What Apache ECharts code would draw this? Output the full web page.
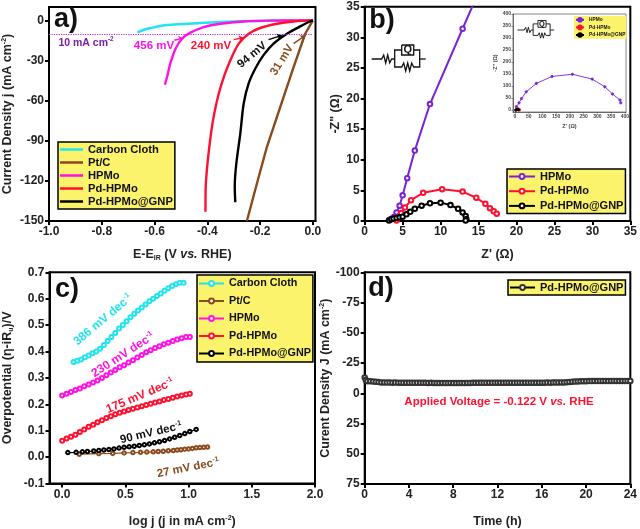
<!DOCTYPE html>
<html><head><meta charset="utf-8">
<script src="https://cdn.jsdelivr.net/npm/echarts@6/dist/echarts.min.js"></script>
<style>html,body{margin:0;padding:0;background:#fff}#c{width:640px;height:529px}</style>
</head><body><div id="c"></div>
<script>
// ---------- tick labels
const aXTicks=[-1,-0.8,-0.6,-0.4,-0.2,0];
const aYTicks=[-150,-120,-90,-60,-30,0];
const bTicks=[0,5,10,15,20,25,30,35];
const cXTicks=[0,0.5,1,1.5,2];
const cYTicks=[-0.1,0,0.1,0.2,0.3,0.4,0.5,0.6,0.7];
const dXTicks=[0,4,8,12,16,20,24];
const dYTicks=[-100,-75,-50,-25,0,25,50,75];
const insetTicks=[0,50,100,150,200,250,300,350,400];

// ---------- panel a: LSV
const aCarbon=[[-0.665,-9],[-0.64,-7],[-0.615,-5.7],[-0.552,-3.5],[-0.426,-2],[-0.3,-0.8],[-0.174,-0.3],[0,0]];
const aPtC=[[-0.25,-150],[-0.212,-122],[-0.174,-94.5],[-0.124,-65],[-0.073,-35],[-0.029,-10],[0,0]];
const aHPMo=[[-0.561,-48],[-0.552,-42],[-0.54,-32],[-0.52,-21],[-0.496,-13.7],[-0.464,-9.2],[-0.414,-5],[-0.35,-2.5],[-0.262,-0.8],[-0.17,-0.2],[0,0]];
const aPd=[[-0.407,-143],[-0.406,-124],[-0.398,-104.5],[-0.386,-84.6],[-0.376,-72],[-0.357,-55],[-0.335,-41],[-0.313,-30],[-0.281,-17.4],[-0.243,-10],[-0.2,-5.7],[-0.136,-2.5],[-0.073,-0.8],[0,0]];
const aGNP=[[-0.294,-136],[-0.296,-124],[-0.29,-107],[-0.275,-84.6],[-0.262,-62],[-0.243,-47],[-0.218,-36],[-0.187,-26],[-0.149,-17.4],[-0.098,-10],[-0.048,-4.5],[-0.016,-1.2],[0,0]];

// ---------- panel b: Nyquist
const bHPMo=[[3.3,0.2],[3.6,0.4],[3.9,0.7],[4.2,1.4],[4.6,2.5],[5,4.2],[5.6,7],[6.6,11.5],[8.6,19.1],[12.9,31.4],[15.4,38.5]];
const bPd=[[4.2,0.1],[4.4,0.5],[4.8,1.3],[5.3,2.2],[6.1,3.4],[7.7,4.6],[10.2,5.2],[12.9,4.8],[14.7,3.8],[15.9,2.8],[16.5,2.1],[17,1.6],[17.4,1.2]];
const bGNP=[[3.2,0.1],[3.5,0.3],[3.8,0.4],[4.2,0.5],[4.6,0.6],[5,0.7],[5.5,1.1],[6,1.5],[6.6,2],[7.5,2.5],[8.6,2.9],[10,3],[11.3,2.6],[12.3,2],[12.9,1.4],[13.3,0.8],[13.4,0.3],[13.3,0.1]];
const inHPMo=[[5,14],[15,30],[24,48],[41,76],[78,111],[135,140],[209,149],[281,129],[327,97],[355,67],[382,42],[385,30]];
const inPd=[[4,1],[7,3],[10,5],[14,4],[17,1]];
const inGNP=[[3,0],[6,2],[10,3],[13,1]];

// ---------- panel c: Tafel
const cCarbon=[[0.09,0.36],[0.12,0.365],[0.15,0.37],[0.18,0.378],[0.21,0.385],[0.24,0.393],[0.27,0.4],[0.3,0.41],[0.33,0.425],[0.36,0.44],[0.39,0.455],[0.42,0.47],[0.45,0.487],[0.48,0.5],[0.51,0.515],[0.54,0.53],[0.57,0.543],[0.6,0.555],[0.63,0.567],[0.66,0.578],[0.69,0.59],[0.72,0.6],[0.75,0.61],[0.78,0.62],[0.81,0.63],[0.84,0.64],[0.87,0.648],[0.9,0.655],[0.93,0.66],[0.96,0.66]];
const cPtC=[[0.135,0.011],[0.29,0.013],[0.4,0.014],[0.49,0.016],[0.56,0.017],[0.62,0.018],[0.67,0.019],[0.72,0.02],[0.76,0.021],[0.8,0.022],[0.84,0.024],[0.88,0.025],[0.91,0.027],[0.94,0.028],[0.97,0.03],[1,0.031],[1.03,0.033],[1.06,0.035],[1.09,0.036],[1.12,0.037],[1.15,0.038]];
const cHPMo=[[0,0.233],[0.035,0.24],[0.07,0.247],[0.105,0.254],[0.14,0.26],[0.175,0.268],[0.21,0.275],[0.245,0.283],[0.28,0.29],[0.315,0.3],[0.35,0.31],[0.385,0.32],[0.42,0.33],[0.455,0.34],[0.49,0.348],[0.525,0.358],[0.56,0.367],[0.595,0.377],[0.63,0.387],[0.665,0.397],[0.7,0.405],[0.735,0.413],[0.77,0.42],[0.805,0.427],[0.84,0.433],[0.875,0.44],[0.91,0.445],[0.945,0.45],[0.98,0.455],[1.01,0.455]];
const cPd=[[0,0.062],[0.035,0.07],[0.07,0.077],[0.105,0.085],[0.14,0.095],[0.175,0.105],[0.21,0.115],[0.245,0.123],[0.28,0.132],[0.315,0.14],[0.35,0.148],[0.385,0.155],[0.42,0.162],[0.455,0.168],[0.49,0.173],[0.525,0.178],[0.56,0.183],[0.595,0.188],[0.63,0.193],[0.665,0.197],[0.7,0.202],[0.735,0.207],[0.77,0.211],[0.805,0.216],[0.84,0.22],[0.875,0.225],[0.91,0.23],[0.945,0.233],[0.98,0.237],[1.01,0.24]];
const cGNP=[[0.045,0.017],[0.11,0.018],[0.16,0.02],[0.2,0.021],[0.25,0.023],[0.29,0.025],[0.33,0.027],[0.37,0.029],[0.41,0.031],[0.45,0.034],[0.49,0.037],[0.53,0.039],[0.57,0.041],[0.61,0.044],[0.65,0.047],[0.69,0.05],[0.73,0.054],[0.77,0.058],[0.81,0.063],[0.85,0.069],[0.89,0.075],[0.93,0.082],[0.97,0.089],[1.01,0.097],[1.06,0.105]];

// ---------- panel d: stability
const dTime=[0,0.1,0.25,0.5,0.75,1,1.25,1.5,1.75,2,2.25,2.5,2.75,3,3.25,3.5,3.75,4,4.25,4.5,4.75,5,5.25,5.5,5.75,6,6.25,6.5,6.75,7,7.25,7.5,7.75,8,8.25,8.5,8.75,9,9.25,9.5,9.75,10,10.25,10.5,10.75,11,11.25,11.5,11.75,12,12.25,12.5,12.75,13,13.25,13.5,13.75,14,14.25,14.5,14.75,15,15.25,15.5,15.75,16,16.25,16.5,16.75,17,17.25,17.5,17.75,18,18.25,18.5,18.75,19,19.25,19.5,19.75,20,20.25,20.5,20.75,21,21.25,21.5,21.75,22,22.25,22.5,22.75,23,23.25,23.5,23.75,24];
const dCurrent=[-13,-11,-10,-10,-9.8,-9.6,-9.3,-9,-9,-8.9,-8.9,-8.8,-8.9,-8.8,-8.8,-8.7,-8.8,-8.7,-8.7,-8.6,-8.7,-8.6,-8.6,-8.6,-8.5,-8.6,-8.5,-8.5,-8.4,-8.5,-8.4,-8.4,-8.5,-8.4,-8.4,-8.4,-8.5,-8.4,-8.5,-8.5,-8.6,-8.6,-8.6,-8.7,-8.7,-8.7,-8.8,-8.7,-8.8,-8.8,-8.8,-8.7,-8.8,-8.8,-8.8,-8.7,-8.8,-8.8,-8.7,-8.8,-8.8,-8.8,-8.7,-8.8,-8.8,-8.8,-8.8,-8.9,-8.8,-8.9,-8.9,-8.9,-9,-9,-9.2,-9.4,-9.6,-9.7,-9.8,-9.9,-10,-10,-10.1,-10.1,-10.2,-10.1,-10.2,-10.2,-10.2,-10.1,-10.2,-10.2,-10.2,-10.1,-10.2,-10.2,-10.2,-10.2];

const FONT='"Liberation Sans",Arial,sans-serif';
const CYAN='#22E4EC',BROWN='#8A4A1C',MAG='#FF12E6',RED='#FF1030',BLK='#000',PUR='#7A22D6',YEL='#FBF36C';

function axis(grid,min,max,ticks,dec,extra){
  const fmt=v=>dec?Number(v).toFixed(dec):String(v);
  return Object.assign({type:'value',gridIndex:grid,min,max,
    axisLine:{show:true,onZero:false,lineStyle:{color:'#000',width:2}},
    axisTick:{show:true,customValues:ticks,length:4,inside:false,lineStyle:{color:'#000',width:2}},
    axisLabel:{show:true,customValues:ticks,formatter:fmt,color:'#222',fontFamily:FONT,fontWeight:'bold',fontSize:12,margin:5},
    splitLine:{show:false},minorTick:{show:false},
    nameLocation:'middle',
    nameTextStyle:{color:'#222',fontFamily:FONT,fontWeight:'bold',fontSize:12.5,
      rich:{sup:{fontSize:7,fontWeight:'bold',fontFamily:FONT,color:'#222',verticalAlign:'top',lineHeight:14},
            sub:{fontSize:7,fontWeight:'bold',fontFamily:FONT,color:'#222',verticalAlign:'bottom',lineHeight:14},
            i:{fontStyle:'italic',fontWeight:'bold',fontSize:12.5,fontFamily:FONT,color:'#222'}}}
  },extra||{});
}
function inAxis(min,max,extra){
  const a=axis(4,min,max,insetTicks,0,extra);
  a.axisLine.lineStyle={color:'#444',width:0.7};
  a.axisTick.length=1.5;a.axisTick.lineStyle={color:'#444',width:0.6};
  a.axisLabel.fontSize=5;a.axisLabel.margin=2;a.axisLabel.color='#444';
  a.nameTextStyle.fontSize=5.5;a.nameTextStyle.color='#444';
  return a;
}
function line(tag,name,data,x,color,width,sym,size,more){
  return Object.assign({type:'line',name:tag+'|'+name,data,xAxisIndex:x,yAxisIndex:x,
    showSymbol:!!sym,symbol:sym||'none',symbolSize:size||0,
    lineStyle:{color,width},itemStyle:{color,borderColor:color,borderWidth:sym?1:0},
    z:3},more||{});
}
function legend(tag,names,left,top,font,gap,iw,ih,pad,bw,icon){
  const l={show:true,orient:'vertical',left,top,data:names.map(n=>tag+'|'+n),
    formatter:n=>n.split('|')[1],backgroundColor:YEL,borderColor:'#000',borderWidth:bw,
    padding:pad,itemGap:gap,itemWidth:iw,itemHeight:ih,align:'left',selectedMode:false,
    textStyle:{color:'#111',fontFamily:FONT,fontWeight:'bold',fontSize:font}};
  if(icon)l.icon=icon;
  return l;
}
function ann(text,x,y,fill,size,deg){
  return {type:'text',x,y,rotation:(deg||0)*Math.PI/180,z:20,silent:true,
    style:{text,fill,fontFamily:FONT,fontWeight:'bold',fontSize:size,textAlign:'center',textVerticalAlign:'middle',
      rich:{sup:{fontSize:size*0.6,fontWeight:'bold',fontFamily:FONT,fill,verticalAlign:'top',lineHeight:size+2},
            i:{fontStyle:'italic',fontWeight:'bold',fontSize:size,fontFamily:FONT,fill}}}};
}
// small arrows and the dotted reference level, placed in data coordinates
const guide=(from,to,color,width,type,head)=>({markLine:{silent:true,animation:false,label:{show:false},
  symbol:['none',head?'arrow':'none'],symbolSize:5,lineStyle:{color,width,type},itemStyle:{color},
  data:[[{coord:from,lineStyle:{color,width,type},itemStyle:{color}},{coord:to,lineStyle:{color,width,type},itemStyle:{color}}]]}});
function circuit(ox,oy,k,w){
  const p=pts=>({type:'polyline',x:ox,y:oy,scaleX:k,scaleY:k,z:20,silent:true,
    shape:{points:pts},style:{stroke:'#111',lineWidth:w/k,fill:null}});
  return [
    p([[0,0],[10,0],[12,-4],[14,4],[16,-4],[18,4],[20,0],[23,0]]),
    p([[30,-9],[23,-9],[23,8],[30,8],[32,4],[34,12],[36,4],[38,12],[40,4],[42,8],[48,8],[48,-9],[42,-9]]),
    p([[48,0],[54,0]]),
    p([[30,-14],[42,-14],[42,-4],[30,-4],[30,-14]]),
    ann('Q',ox+36*k,oy-9*k,'#111',11*k,0)
  ];
}

const option={
  animation:false,backgroundColor:'#fff',
  textStyle:{fontFamily:FONT},
  grid:[
    {left:48,top:7,width:267.5,height:214,show:true,borderColor:'#000',borderWidth:2},
    {left:364.7,top:6.7,width:267.3,height:214.3,show:true,borderColor:'#000',borderWidth:2},
    {left:49,top:272.3,width:266,height:215,show:true,borderColor:'#000',borderWidth:2},
    {left:364.7,top:272.3,width:267.3,height:215,show:true,borderColor:'#000',borderWidth:2},
    {left:513,top:14,width:113,height:98,show:true,borderColor:'#555',borderWidth:0.7,backgroundColor:'#fff'}
  ],
  xAxis:[
    axis(0,-1,0.01,aXTicks,1,{name:'E-E{sub|IR} (V {i|vs.} RHE)',nameGap:27}),
    axis(1,0,35,bTicks,0,{name:"Z' (Ω)",nameGap:27}),
    axis(2,-0.1,2,cXTicks,1,{name:'log j (j in mA cm{sup|-2})',nameGap:31}),
    axis(3,0,24,dXTicks,0,{name:'Time (h)',nameGap:31}),
    inAxis(-7,404,{name:"Z' (Ω)",nameGap:11})
  ],
  yAxis:[
    axis(0,-150,10,aYTicks,0,{name:'Current Density j (mA cm{sup|-2})',nameGap:34}),
    axis(1,0,35,bTicks,0,{name:'-Z" (Ω)',nameGap:21}),
    axis(2,-0.1,0.7,cYTicks,1,{name:'Overpotential (η-iR{sub|u})/V',nameGap:35}),
    axis(3,-100,75,dYTicks,0,{inverse:true,name:'Curent Density J (mA cm{sup|-2})',nameGap:31}),
    inAxis(-8,400,{name:'-Z" (Ω)',nameGap:12})
  ],
  legend:[
    legend('a',['Carbon Cloth','Pt/C','HPMo','Pd-HPMo','Pd-HPMo@GNP'],58,142,11.2,2,23,2.5,[2,2,2,2],1.5,'rect'),
    legend('b',['HPMo','Pd-HPMo','Pd-HPMo@GNP'],507,169,11,3.7,26,6,[2,2,2,1],1.5),
    legend('c',['Carbon Cloth','Pt/C','HPMo','Pd-HPMo','Pd-HPMo@GNP'],197,275,10.8,6.5,25,6,[3,2,3,1],1.5),
    legend('d',['Pd-HPMo@GNP'],508,280,11,0,25,6,[2,2,2,1],1.5),
    legend('i',['HPMo','Pd-HPMo','Pd-HPMo@GNP'],574,16,4.8,2,8,4.5,[1,1,1,1],0)
  ],
  series:[
    line('a','Carbon Cloth',aCarbon,0,CYAN,2.4,null,0,Object.assign({smooth:0.3},guide([-1,-10],[0,-10],'#C020E0',1.2,'dotted',false))),
    line('a','Pt/C',aPtC,0,BROWN,2.4,null,0,guide([-0.073,-17.4],[-0.029,-11.2],BROWN,1.4,'solid',true)),
    line('a','HPMo',aHPMo,0,MAG,2.4,null,0,Object.assign({smooth:0.3},guide([-0.525,-14.9],[-0.49,-13.2],MAG,1.4,'solid',true))),
    line('a','Pd-HPMo',aPd,0,RED,2.4,null,0,Object.assign({smooth:0.3},guide([-0.3,-14.4],[-0.262,-12.9],RED,1.4,'solid',true))),
    line('a','Pd-HPMo@GNP',aGNP,0,BLK,2.4,null,0,Object.assign({smooth:0.3},guide([-0.168,-14.4],[-0.117,-11.2],BLK,1.4,'solid',true))),

    line('b','HPMo',bHPMo,1,PUR,2,'emptyCircle',4.5),
    line('b','Pd-HPMo',bPd,1,RED,2,'emptyCircle',4.5),
    line('b','Pd-HPMo@GNP',bGNP,1,BLK,2,'emptyCircle',4.5),

    line('c','Carbon Cloth',cCarbon,2,CYAN,1.3,'emptyCircle',4),
    line('c','Pt/C',cPtC,2,BROWN,1.3,'emptyCircle',3.5),
    line('c','HPMo',cHPMo,2,MAG,1.3,'emptyCircle',4),
    line('c','Pd-HPMo',cPd,2,RED,1.3,'emptyCircle',4),
    line('c','Pd-HPMo@GNP',cGNP,2,BLK,1.3,'emptyCircle',3.5),

    line('d','Pd-HPMo@GNP',dTime.map((t,i)=>[t,dCurrent[i]]),3,BLK,1.4,'emptyCircle',4.5,{itemStyle:{color:'#333',borderColor:'#333',borderWidth:0.7}}),

    line('i','HPMo',inHPMo,4,PUR,0.9,'circle',2.2,{z:6}),
    line('i','Pd-HPMo',inPd,4,RED,0.9,'circle',2.2,{z:6}),
    line('i','Pd-HPMo@GNP',inGNP,4,BLK,0.9,'circle',2.2,{z:6})
  ],
  graphic:[
    ann('a)',66,20,'#111',27),ann('b)',382,21,'#111',27),ann('c)',67,290,'#111',27),ann('d)',381,289,'#111',27),
    ann('10 mA cm{sup|-2}',86,43,'#7A1FA8',10.5),
    ann('456 mV',154,46,MAG,11.5),
    ann('240 mV',211,46,RED,11.5),
    ann('94 mV',252,55,'#111',11.5,40),
    ann('31 mV',282,60,BROWN,11.5,58),
    ann('386 mV dec{sup|-1}',103,320,CYAN,12,40),
    ann('230 mV dec{sup|-1}',123,355,MAG,12,33),
    ann('175 mV dec{sup|-1}',140,396,RED,12,23),
    ann('90 mV dec{sup|-1}',151,433,'#111',11.5,13),
    ann('27 mV dec{sup|-1}',188,468,BROWN,11.5,11),
    ann('Applied Voltage = -0.122 V {i|vs.} RHE',499,402,RED,11.5),
    ...circuit(371.7,59,1,1.3),
    ...circuit(517.5,30,0.68,0.9)
  ]
};
echarts.init(document.getElementById('c'),null,{renderer:'canvas'}).setOption(option);
</script></body></html>
